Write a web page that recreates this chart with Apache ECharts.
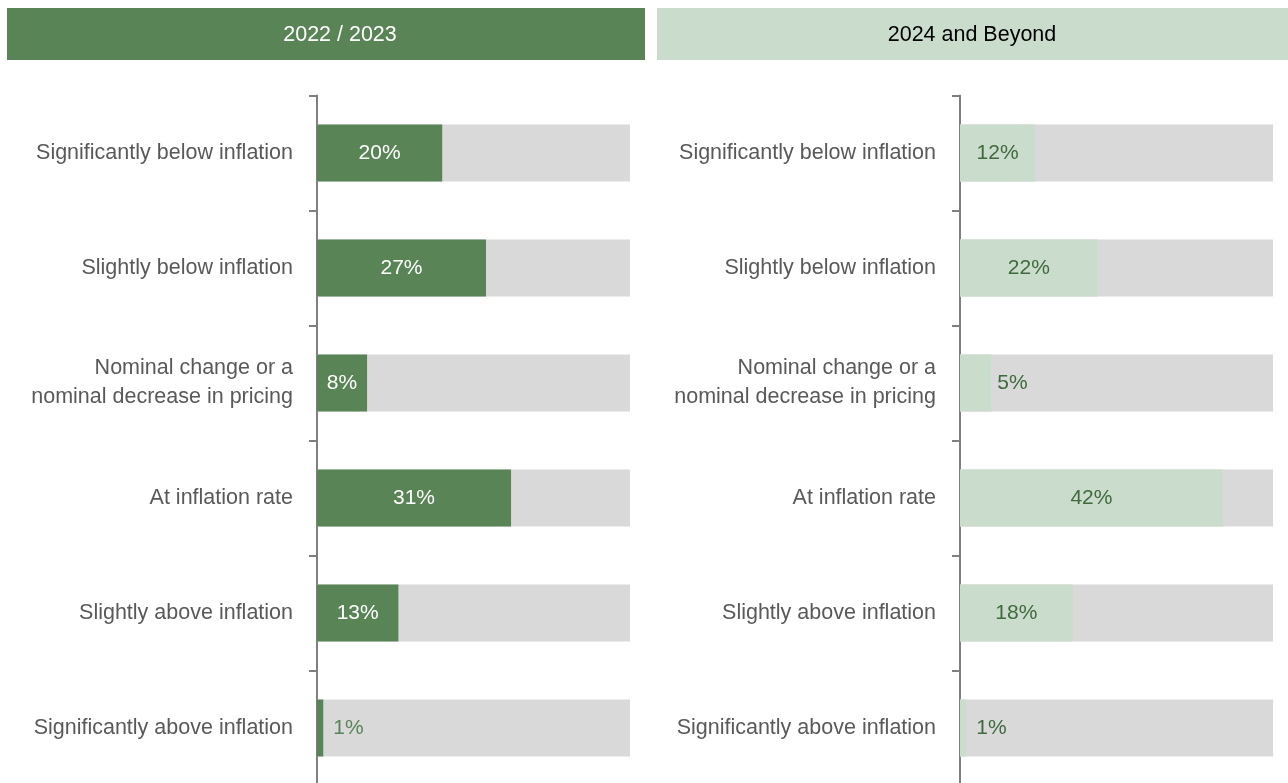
<!DOCTYPE html>
<html>
<head>
<meta charset="utf-8">
<style>
  html, body { margin: 0; padding: 0; background: #ffffff; }
  #chart { width: 1288px; height: 783px; }
</style>
<script src="https://cdn.jsdelivr.net/npm/echarts@6/dist/echarts.min.js"></script>
</head>
<body>
<div id="chart"></div>
<script>
// Pricing expectations relative to inflation, two time horizons
const categories = [
  'Significantly below inflation',
  'Slightly below inflation',
  'Nominal change or a\nnominal decrease in pricing',
  'At inflation rate',
  'Slightly above inflation',
  'Significantly above inflation'
];
const panelTitles = ['2022 / 2023', '2024 and Beyond'];
const values2022 = [20, 27, 8, 31, 13, 1];
const values2024 = [12, 22, 5, 42, 18, 1];
const axisMax = 50;

const FONT = '"Liberation Sans", Arial, sans-serif';
const DARK = '#588456';
const LIGHT = '#cadccb';
const TRACK = '#d9d9d9';

function barData(values, insideColor, outsideColor, minInside) {
  return values.map(v => ({
    value: v,
    label: v >= minInside
      ? { position: 'inside', color: insideColor }
      : { position: 'right', distance: v < 3 ? 10 : 6, color: outsideColor }
  }));
}

function axisPair(idx) {
  return {
    x: {
      type: 'value', gridIndex: idx, min: 0, max: axisMax, show: false
    },
    y: {
      type: 'category', gridIndex: idx, data: categories, inverse: true,
      axisLine: { show: true, lineStyle: { color: '#7f7f7f', width: 2 } },
      axisTick: { show: true, length: 8, lineStyle: { color: '#7f7f7f', width: 2 } },
      axisLabel: {
        color: '#595959', fontSize: 21.5, fontFamily: FONT,
        margin: 24, lineHeight: 29, align: 'right'
      }
    }
  };
}

const a0 = axisPair(0), a1 = axisPair(1);

const option = {
  animation: false,
  grid: [
    { left: 317, top: 95.5, width: 313, height: 690, outerBoundsMode: 'none', containLabel: false },
    { left: 960, top: 95.5, width: 313, height: 690, outerBoundsMode: 'none', containLabel: false }
  ],
  xAxis: [a0.x, a1.x],
  yAxis: [a0.y, a1.y],
  graphic: [
    {
      type: 'rect', x: 7, y: 8,
      shape: { width: 638, height: 52 },
      style: { fill: DARK }
    },
    {
      type: 'text', x: 340, y: 35,
      style: {
        text: panelTitles[0], fill: '#ffffff', fontSize: 21.5, fontFamily: FONT,
        align: 'center', verticalAlign: 'middle'
      }
    },
    {
      type: 'rect', x: 657, y: 8,
      shape: { width: 631, height: 52 },
      style: { fill: LIGHT }
    },
    {
      type: 'text', x: 972, y: 35,
      style: {
        text: panelTitles[1], fill: '#000000', fontSize: 21.5, fontFamily: FONT,
        align: 'center', verticalAlign: 'middle'
      }
    }
  ],
  series: [
    {
      type: 'bar', xAxisIndex: 0, yAxisIndex: 0, barWidth: 57,
      data: barData(values2022, '#ffffff', DARK, 5),
      itemStyle: { color: DARK },
      showBackground: true,
      backgroundStyle: { color: TRACK },
      label: { show: true, formatter: '{c}%', fontSize: 21, fontFamily: FONT }
    },
    {
      type: 'bar', xAxisIndex: 1, yAxisIndex: 1, barWidth: 57,
      data: barData(values2024, '#3e6a3d', '#3e6a3d', 8),
      itemStyle: { color: LIGHT },
      showBackground: true,
      backgroundStyle: { color: TRACK },
      label: { show: true, formatter: '{c}%', fontSize: 21, fontFamily: FONT }
    }
  ]
};

const chart = echarts.init(document.getElementById('chart'), null, { renderer: 'canvas' });
chart.setOption(option);
</script>
</body>
</html>
